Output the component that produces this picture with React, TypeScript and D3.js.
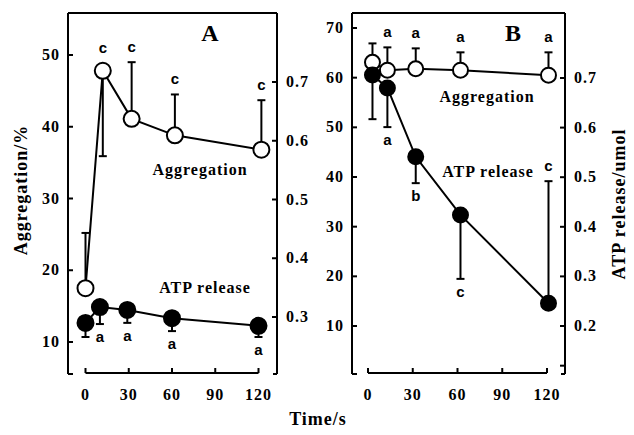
import React from 'react';
import * as d3 from 'd3';

// time points (s)
const timeTicks = [0, 30, 60, 90, 120];

// panel A
const aggTimeA = [0, 12, 32, 62, 122];
const aggA = [17.5, 47.8, 41.1, 38.8, 36.8];
const aggErrA = [7.7, -11.9, 7.9, 5.7, 6.9];
const aggLabA = ['', 'c', 'c', 'c', 'c'];
const atpTimeA = [0, 10, 29, 60, 120];
const atpA = [0.29, 0.317, 0.312, 0.298, 0.285];
const atpErrA = [-0.024, -0.029, -0.022, -0.022, -0.019];
const atpLabA = ['', 'a', 'a', 'a', 'a'];
const leftTicksA = [10, 20, 30, 40, 50];
const rightTicksA = [0.3, 0.4, 0.5, 0.6, 0.7];

// panel B
const timeB = [3, 13, 32, 62, 121];
const aggB = [63.1, 61.5, 61.8, 61.5, 60.5];
const aggErrB = [3.8, 4.6, 4.1, 3.6, 4.6];
const aggLabB = ['', 'a', 'a', 'a', 'a'];
const atpB = [0.706, 0.68, 0.541, 0.424, 0.246];
const atpErrB = [-0.089, -0.079, -0.053, -0.129, 0.246];
const atpLabB = ['', 'a', 'b', 'c', 'c'];
const leftTicksB = [10, 20, 30, 40, 50, 60, 70];
const rightTicksB = [0.12, 0.2, 0.3, 0.4, 0.5, 0.6, 0.7];
const rightTickLabelsB = ['', '0.2', '0.3', '0.4', '0.5', '0.6', '0.7'];

const serif = "'Liberation Serif', 'Times New Roman', serif";
const sans = "'Liberation Sans', Arial, sans-serif";

type Series = {
  t: number[]; v: number[]; err: number[]; lab: string[];
  y: d3.ScaleLinear<number, number>; filled: boolean;
};

const Panel = ({ box, x, yL, yR, lTicks, rTicks, rLabels, r, series, letter, texts }: any) => {
  const line = d3.line<[number, number]>();
  const tickLen = 5;
  return (
    <g>
      {/* frame */}
      <g stroke="#000" strokeWidth={2} fill="none">
        <line x1={box.l} y1={box.t} x2={box.r} y2={box.t} />
        <line x1={box.l} y1={box.t} x2={box.l} y2={box.b} />
        <line x1={box.r} y1={box.t} x2={box.r} y2={box.b} />
        <line x1={box.l} y1={box.b} x2={box.l + 5} y2={box.b} />
        <line x1={box.r - 4} y1={box.b} x2={box.r} y2={box.b} />
        <line x1={x(0)} y1={box.b - 1} x2={x(120)} y2={box.b - 1} />
        {timeTicks.map(t => (
          <line key={t} x1={x(t)} x2={x(t)} y1={box.b - 1} y2={box.b - 1 - tickLen} />
        ))}
        {lTicks.map((v: number) => (
          <line key={'l' + v} x1={box.l} x2={box.l + tickLen} y1={yL(v)} y2={yL(v)} />
        ))}
        {rTicks.map((v: number) => (
          <line key={'r' + v} x1={box.r - tickLen} x2={box.r} y1={yR(v)} y2={yR(v)} />
        ))}
      </g>
      <g fontFamily={serif} fontWeight="bold" fontSize={16} letterSpacing={1}>
        {timeTicks.map(t => (
          <text key={t} x={x(t)} y={box.b + 26} textAnchor="middle">{t}</text>
        ))}
        {lTicks.map((v: number) => (
          <text key={'l' + v} x={box.l - 8} y={yL(v) + 5} textAnchor="end">{v}</text>
        ))}
        {rTicks.map((v: number, i: number) => (
          <text key={'r' + v} x={box.r + 9} y={yR(v) + 5}>{rLabels ? rLabels[i] : v.toFixed(1)}</text>
        ))}
        <text x={letter.x} y={letter.y} fontSize={24} textAnchor="middle" letterSpacing={0}>{letter.s}</text>
        {texts.map((tx: any) => (
          <text key={tx.s} x={tx.x} y={tx.y} textAnchor="middle">{tx.s}</text>
        ))}
      </g>
      {series.map((s: Series, si: number) => {
        const pts: [number, number][] = s.t.map((t, i) => [x(t), s.y(s.v[i])]);
        return (
          <g key={si}>
            <g stroke="#000" strokeWidth={2}>
              {s.t.map((t, i) => {
                const y0 = s.y(s.v[i]);
                const y1 = s.y(s.v[i] + s.err[i]);
                return (
                  <g key={i}>
                    <line x1={x(t)} x2={x(t)} y1={y0} y2={y1} />
                    <line x1={x(t) - 4} x2={x(t) + 4} y1={y1} y2={y1} />
                  </g>
                );
              })}
            </g>
            <path d={line(pts) || ''} fill="none" stroke="#000" strokeWidth={2} />
            {pts.map((p, i) => (
              <circle key={i} cx={p[0]} cy={p[1]} r={r}
                fill={s.filled ? '#000' : '#fff'} stroke="#000" strokeWidth={2} />
            ))}
            <g fontFamily={sans} fontWeight="bold" fontSize={15}>
              {s.lab.map((l, i) => {
                if (!l) return null;
                const y0 = s.y(s.v[i]);
                const y1 = s.y(s.v[i] + s.err[i]);
                const up = s.err[i] > 0 || s.filled === false;
                const yy = up ? Math.min(y0 - r, y1) - 10 : Math.max(y0 + r, y1) + 18;
                return <text key={i} x={x(s.t[i])} y={yy} textAnchor="middle">{l}</text>;
              })}
            </g>
          </g>
        );
      })}
    </g>
  );
};

export default function App() {
  const boxA = { l: 68, t: 13, r: 277, b: 374 };
  const xA = d3.scaleLinear().domain([0, 120]).range([85.5, 258.5]);
  const yLA = d3.scaleLinear().domain([10, 50]).range([342, 55]);
  const yRA = d3.scaleLinear().domain([0.3, 0.7]).range([317, 82]);

  const boxB = { l: 352, t: 13, r: 565, b: 374 };
  const xB = d3.scaleLinear().domain([0, 120]).range([368, 547]);
  const yLB = d3.scaleLinear().domain([10, 70]).range([326, 28]);
  const yRB = d3.scaleLinear().domain([0.2, 0.7]).range([326, 78]);

  const seriesA: Series[] = [
    { t: aggTimeA, v: aggA, err: aggErrA, lab: aggLabA, y: yLA, filled: false },
    { t: atpTimeA, v: atpA, err: atpErrA, lab: atpLabA, y: yRA, filled: true },
  ];
  const seriesB: Series[] = [
    { t: timeB, v: aggB, err: aggErrB, lab: aggLabB, y: yLB, filled: false },
    { t: timeB, v: atpB, err: atpErrB, lab: atpLabB, y: yRB, filled: true },
  ];

  return (
    <svg width={634} height={435} style={{ position: 'absolute', left: 0, top: 0, background: '#fff' }}>
      <Panel box={boxA} x={xA} yL={yLA} yR={yRA} lTicks={leftTicksA} rTicks={rightTicksA}
        r={8} series={seriesA} letter={{ s: 'A', x: 210, y: 41 }}
        texts={[{ s: 'Aggregation', x: 200, y: 175 }, { s: 'ATP release', x: 205, y: 293 }]} />
      <Panel box={boxB} x={xB} yL={yLB} yR={yRB} lTicks={leftTicksB} rTicks={rightTicksB}
        rLabels={rightTickLabelsB}
        r={7.5} series={seriesB} letter={{ s: 'B', x: 513, y: 41 }}
        texts={[{ s: 'Aggregation', x: 487, y: 102 }, { s: 'ATP release', x: 488, y: 177 }]} />
      <g fontFamily={serif} fontWeight="bold" fontSize={18} letterSpacing={1} textAnchor="middle">
        <text transform="translate(27,190) rotate(-90)">Aggregation/%</text>
        <text transform="translate(625,204) rotate(-90)">ATP release/umol</text>
        <text x={318} y={425}>Time/s</text>
      </g>
    </svg>
  );
}
